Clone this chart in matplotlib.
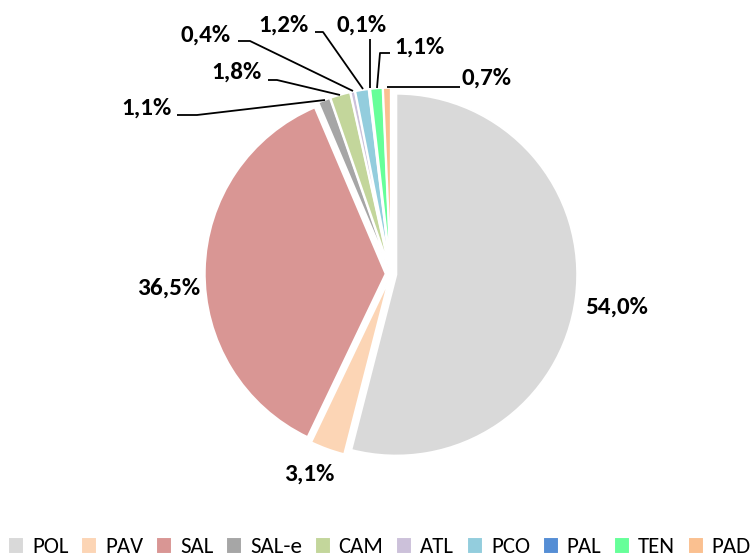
import matplotlib
matplotlib.use("Agg")
from matplotlib import pyplot as plt

plt.rcParams["font.family"] = ["Carlito", "Lato", "DejaVu Sans"]

names = ["POL", "PAV", "SAL", "SAL-e", "CAM", "ATL", "PCO", "PAL", "TEN", "PAD"]
shares = [54.0, 3.1, 36.5, 1.1, 1.8, 0.4, 1.2, 0.1, 1.1, 0.7]
colors = ["#D9D9D9", "#FCD5B5", "#D99694", "#A6A6A6", "#C3D69B",
          "#CCC1DA", "#93CDDD", "#558ED5", "#66FF99", "#FAC090"]

# label text centres in image pixels (x, y from top)
label_pos = [(617, 307), (309, 474), (169, 288), (146, 108), (236, 72),
             (206, 35), (283, 25), (362, 25), (419, 47), (487, 78)]
# leader lines in image pixels
leaders = {
    3: [(177, 115), (197, 115), (325, 100)],
    4: [(268, 80), (277, 80), (340, 95)],
    5: [(238, 41), (250, 41), (353, 91)],
    6: [(315, 32), (323, 32), (363, 89)],
    7: [(370, 39), (370, 88)],
    8: [(390, 53), (380, 53), (377, 88)],
    9: [(460, 87), (387, 87)],
}

W, H = 755, 560
fig = plt.figure(figsize=(W / 100, H / 100), dpi=100)
ax = fig.add_axes([0, 0, 1, 1])

wedges, _ = ax.pie(shares, colors=colors, startangle=90, counterclock=False,
                   center=(391, H - 274), radius=181, explode=[5.3] * len(shares),
                   wedgeprops={"edgecolor": "white", "linewidth": 1.5})
ax.set_xlim(0, W)
ax.set_ylim(0, H)
ax.set_aspect("equal")
ax.axis("off")

for i, v in enumerate(shares):
    x, y = label_pos[i]
    ax.text(x, H - y, f"{v:.1f}%".replace(".", ","), ha="center", va="center",
            fontsize=18, fontweight="bold", color="black")

for pts in leaders.values():
    ax.plot([p[0] for p in pts], [H - p[1] for p in pts], color="black", lw=1.3,
            solid_capstyle="butt")

fig.legend(wedges, names, loc="center left", bbox_to_anchor=(8 / W, (H - 547) / H),
           ncol=len(names), frameon=False, fontsize=16.5, handlelength=0.7,
           handleheight=0.75, handletextpad=0.35, columnspacing=0.55,
           borderpad=0, borderaxespad=0)

fig.savefig("out.png", dpi=100)
